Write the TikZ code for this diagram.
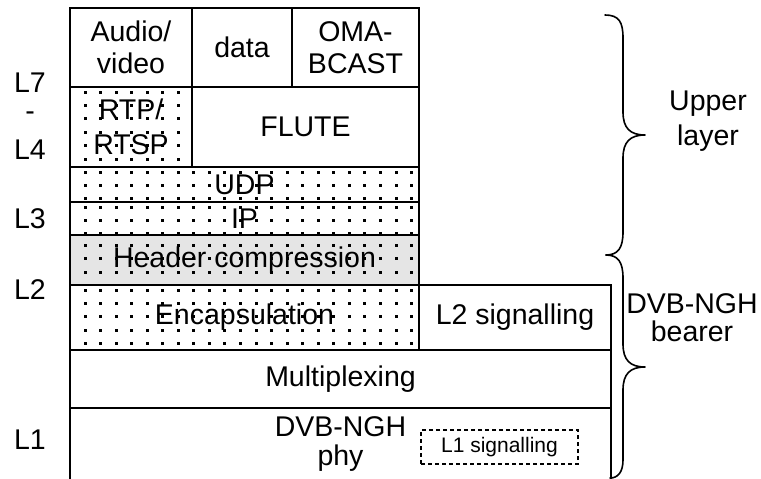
\documentclass[tikz,border=0pt]{standalone}
\usepackage{fontspec}
\setmainfont{Liberation Sans}
\begin{document}
\begin{tikzpicture}[x=1pt,y=-1pt,
  lay/.style={draw=black,line width=2pt,inner sep=0pt,align=center,
    font=\fontsize{28.5}{32}\selectfont},
  small/.style={draw=black,line width=1.2pt,dash pattern=on 4pt off 3pt,inner sep=0pt,
    font=\fontsize{21}{24}\selectfont},
  lbl/.style={inner sep=0pt,align=center,font=\fontsize{28.5}{32}\selectfont},
  brace/.style={line width=1.6pt,line cap=round,line join=round}]
\clip (0,0) rectangle (761,479);
\fill[white] (0,0) rectangle (761,479);
% shaded background for header compression
\fill[black!10] (70,235) rectangle (419,285);
% dot patterns
\newcommand\dotregion[5]{%
  \begin{scope}
  \clip (#1,#2) rectangle (#3,#4);
  \foreach \i in {0,...,22}{\foreach \j in {0,...,6}{%
    \fill (85+15.55*\i-1.5,#5+13.4*\j-1.5) rectangle ++(3,3);}}
  \end{scope}}
\dotregion{70}{87}{192}{167}{92}
\dotregion{70}{167}{419}{202}{172}
\dotregion{70}{202}{419}{235}{207}
\dotregion{70}{235}{419}{285}{232}
\dotregion{70}{285}{419}{350}{290}
% layer boxes
\node[lay,minimum width=122pt,minimum height=79pt] (av) at (131,47.5) {Audio/\\video};
\node[lay,minimum width=100pt,minimum height=79pt] (data) at (242,47.5) {data};
\node[lay,minimum width=127pt,minimum height=79pt] (oma) at (355.5,47.5) {OMA-\\BCAST};
\node[lay,minimum width=122pt,minimum height=80pt,font=\fontsize{28.5}{35}\selectfont] (rtp) at (131,127) {RTP/\\RTSP};
\node[lay,minimum width=227pt,minimum height=80pt] (flute) at (305.5,127) {FLUTE};
\node[lay,minimum width=349pt,minimum height=35pt] (udp) at (244.5,184.5) {UDP};
\node[lay,minimum width=349pt,minimum height=33pt] (ip) at (244.5,218.5) {IP};
\node[lay,minimum width=349pt,minimum height=50pt] (hc) at (244.5,260) {Header compression};
\node[lay,minimum width=349pt,minimum height=65pt] (enc) at (244.5,317.5) {Encapsulation};
\node[lay,minimum width=192pt,minimum height=65pt] (l2s) at (515,317.5) {L2 signalling};
\node[lay,minimum width=541pt,minimum height=58pt] (mux) at (340.5,379) {Multiplexing};
\node[lay,minimum width=541pt,minimum height=72pt,font=\fontsize{28.5}{29}\selectfont] (phy) at (340.5,444) {DVB-NGH\\phy};
\node[small,minimum width=157pt,minimum height=34pt] (l1s) at (499.5,447) {L1 signalling};
% left labels
\node[lbl] (l7) at (30,83) {L7};
\node[lbl] (dash) at (30,116) {-};
\node[lbl] (l4) at (30,150) {L4};
\node[lbl] (l3) at (30,219) {L3};
\node[lbl] (l2) at (30,290) {L2};
\node[lbl] (l1) at (30,440) {L1};
% braces
\coordinate (ut) at (605,15);
\coordinate (utip) at (645,135);
\coordinate (mid) at (606,255);
\coordinate (ltip) at (645,367);
\coordinate (lb) at (610,478);
\draw[brace] (ut) .. controls (619,15) and (623,22) .. (623,38) -- (623,112)
  .. controls (623,128) and (630,135) .. (utip)
  .. controls (630,135) and (623,142) .. (623,158) -- (623,232)
  .. controls (623,248) and (618,255) .. (mid);
\draw[brace] (mid) .. controls (618,255) and (623,262) .. (623,278) -- (623,344)
  .. controls (623,360) and (630,367) .. (ltip)
  .. controls (630,367) and (623,374) .. (623,390) -- (623,460)
  .. controls (623,472) and (618,478) .. (lb);
\node[lbl,font=\fontsize{28.5}{35}\selectfont] (upper) at (708,121) {Upper\\layer};
\node[lbl,font=\fontsize{28.5}{28}\selectfont] (bearer) at (692,318) {DVB-NGH\\bearer};
\end{tikzpicture}
\end{document}
